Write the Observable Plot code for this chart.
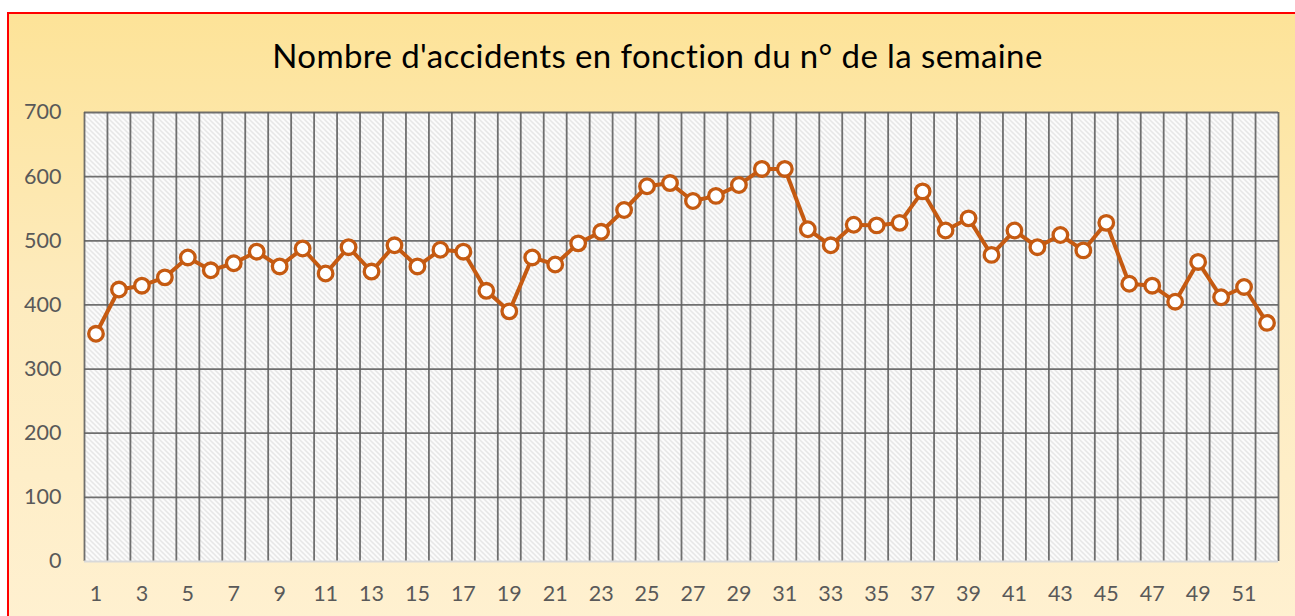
<!DOCTYPE html>
<html>
<head>
<meta charset="utf-8">
<script src="https://cdn.jsdelivr.net/npm/d3@7"></script>
<script src="https://cdn.jsdelivr.net/npm/@observablehq/plot@0.6"></script>
<style>
  html, body { margin: 0; padding: 0; background: #ffffff; overflow: hidden; }
  #bg {
    position: absolute; left: 7px; top: 12px; width: 1310px; height: 640px;
    border: 2px solid #ff0000; box-sizing: border-box;
    background: linear-gradient(to bottom, #fde398 0%, #fdebbe 45%, #fff1d2 100%);
  }
  #wrap { position: absolute; left: 0; top: 0; width: 1295px; }
  #title {
    height: 80px; box-sizing: border-box; padding-top: 35px; padding-left: 20px;
    text-align: center; font-family: Lato, sans-serif; font-size: 33px; color: #000;
    line-height: 40px; letter-spacing: 0.4px; white-space: nowrap;
  }
  svg { display: block; overflow: visible; }
</style>
</head>
<body>
<div id="bg"></div>
<div id="wrap">
  <div id="title">Nombre d'accidents en fonction du n° de la semaine</div>
  <div id="chart"></div>
</div>
<script>
const weeks = Array.from({length: 52}, (_, i) => i + 1);
const accidents = [355, 424, 430, 443, 474, 454, 465, 483, 460, 488,
                   449, 490, 452, 493, 460, 486, 483, 422, 390, 474,
                   463, 496, 514, 548, 585, 590, 562, 570, 587, 612,
                   612, 518, 493, 525, 524, 528, 577, 516, 535, 478,
                   516, 490, 509, 485, 528, 433, 430, 405, 467, 412,
                   428, 372];
const yTicks = [0, 100, 200, 300, 400, 500, 600, 700];
const xTickLabels = [1, 3, 5, 7, 9, 11, 13, 15, 17, 19, 21, 23, 25, 27, 29, 31, 33, 35, 37, 39, 41, 43, 45, 47, 49, 51];
const weekBounds = Array.from({length: 53}, (_, i) => i + 0.5);

const data = weeks.map((w, i) => ({week: w, value: accidents[i]}));
const color = "#c55a11";

const plot = Plot.plot({
  width: 1295,
  height: 536,
  marginLeft: 84,
  marginRight: 17,
  marginTop: 32,
  marginBottom: 55,
  style: {background: "transparent", fontFamily: "Lato, sans-serif", fontSize: "21.5px", color: "#595959", overflow: "visible"},
  x: {type: "linear", domain: [0.5, 52.5], label: null},
  y: {domain: [0, 700], label: null},
  marks: [
    Plot.frame({fill: "url(#hatch)", stroke: null}),
    Plot.ruleX(weekBounds, {stroke: "#606060", strokeWidth: 1.8, strokeOpacity: 0.9}),
    Plot.ruleY(yTicks.filter(d => d > 0), {stroke: "#606060", strokeWidth: 1.8, strokeOpacity: 0.9}),
    Plot.ruleY([0], {stroke: "#d9d9d9", strokeWidth: 2}),
    Plot.axisY(yTicks, {tickSize: 0, tickPadding: 23, fill: "#595959", label: null}),
    Plot.axisX(xTickLabels, {tickSize: 0, tickPadding: 24, fill: "#595959", label: null, tickFormat: d => String(d)}),
    Plot.line(data, {x: "week", y: "value", stroke: color, strokeWidth: 4, curve: "linear"}),
    Plot.dot(data, {x: "week", y: "value", r: 7.3, fill: "#ffffff", stroke: color, strokeWidth: 3.3})
  ]
});

const svg = d3.select(plot);
const pat = svg.insert("defs", ":first-child")
  .append("pattern")
  .attr("id", "hatch")
  .attr("patternUnits", "userSpaceOnUse")
  .attr("width", 5).attr("height", 5);
pat.append("rect").attr("width", 5).attr("height", 5).attr("fill", "#ffffff");
pat.append("path").attr("d", "M-1,-1 L6,6 M-1,4 L1,6 M4,-1 L6,1")
  .attr("stroke", "#dedede").attr("stroke-width", 1.3);

document.getElementById("chart").appendChild(plot);
</script>
</body>
</html>
